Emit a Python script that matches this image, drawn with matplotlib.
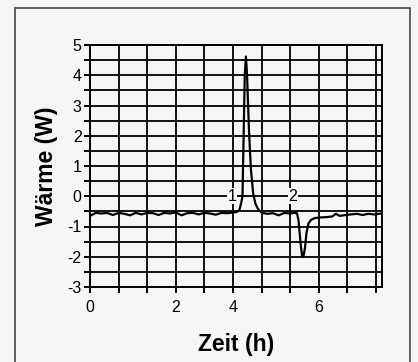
import matplotlib.pyplot as plt
from matplotlib.patches import Rectangle

# time in hours (grid step on the chart is 0.75 h)
time_h = [0.00, 0.15, 0.30, 0.45, 0.60, 0.75, 0.90, 1.05, 1.20, 1.35, 1.50, 1.65,
          1.80, 1.95, 2.10, 2.25, 2.40, 2.55, 2.70, 2.85, 3.00, 3.15, 3.30, 3.45,
          3.60, 3.75, 3.85, 3.92, 3.97, 4.00, 4.03, 4.06, 4.09, 4.12, 4.17, 4.22,
          4.28, 4.34, 4.42, 4.52, 4.65, 4.80, 4.95, 5.10, 5.25, 5.35, 5.43, 5.47,
          5.52, 5.56, 5.60, 5.64, 5.68, 5.73, 5.80, 5.90, 6.05, 6.20, 6.35, 6.45,
          6.55, 6.70, 6.85, 7.00, 7.15, 7.30, 7.45, 7.66]
waerme_w = [-0.65, -0.55, -0.57, -0.55, -0.62, -0.55, -0.58, -0.63, -0.55, -0.60, -0.55, -0.56,
            -0.62, -0.55, -0.57, -0.53, -0.63, -0.56, -0.55, -0.60, -0.55, -0.57, -0.61, -0.55,
            -0.56, -0.54, -0.52, -0.45, -0.20, 0.00, 2.00, 4.00, 4.62, 4.00, 2.20, 0.90,
            0.10, -0.25, -0.45, -0.55, -0.58, -0.56, -0.63, -0.55, -0.57, -0.55, -0.56, -0.80,
            -1.50, -1.95, -1.98, -1.70, -1.20, -0.90, -0.78, -0.72, -0.70, -0.69, -0.67, -0.58,
            -0.65, -0.62, -0.60, -0.58, -0.62, -0.58, -0.60, -0.57]

# event labels
event_names = ["1", "2"]
event_x = [3.72, 5.32]

x_grid = [i * 0.75 for i in range(11)]
x_labels = ["0", "", "", "2", "", "4", "", "", "6", "", ""]
y_grid = [i * 0.5 for i in range(-6, 11)]
y_labels = [str(int(v)) if v == int(v) else "" for v in y_grid]

bg = '#f6f6f4'
plt.rcParams['font.family'] = ['Liberation Sans', 'DejaVu Sans']

fig = plt.figure(figsize=(4.18, 3.62), dpi=100, facecolor=bg)
fig.patches.append(Rectangle((15 / 418, -0.05), 395 / 418, 1 - 8 / 362 + 0.05,
                             transform=fig.transFigure, fill=False,
                             edgecolor='#555555', linewidth=1.3))
ax = fig.add_axes([90 / 418, 1 - 287 / 362, 292 / 418, 242 / 362])
ax.set_facecolor(bg)

ax.plot(time_h, waerme_w, color='black', linewidth=1.6, zorder=3)
ax.vlines(5.24, -0.55, -0.25, color='black', linewidth=1.2, zorder=3)

for name, xe in zip(event_names, event_x):
    ax.text(xe, 0, name, ha='center', va='center', fontsize=11.5,
            bbox=dict(facecolor=bg, edgecolor='none', pad=0.5), zorder=4)

ax.set_xlim(0, 7.66)
ax.set_ylim(-3, 5)
ax.set_xticks(x_grid)
ax.set_xticklabels(x_labels)
ax.set_yticks(y_grid)
ax.set_yticklabels(y_labels)
ax.grid(True, color='#111111', linewidth=1.4)
ax.tick_params(direction='out', length=4, width=1.4, labelsize=11.5, pad=2)
ax.tick_params(axis='x', pad=5)
for s in ax.spines.values():
    s.set_linewidth(1.4)

ax.set_xlabel('Zeit (h)', fontsize=16.5, fontweight='bold', labelpad=13)
ax.set_ylabel('Wärme (W)', fontsize=16.5, fontweight='bold', labelpad=7)

plt.savefig('out.png', dpi=100, facecolor=bg)
